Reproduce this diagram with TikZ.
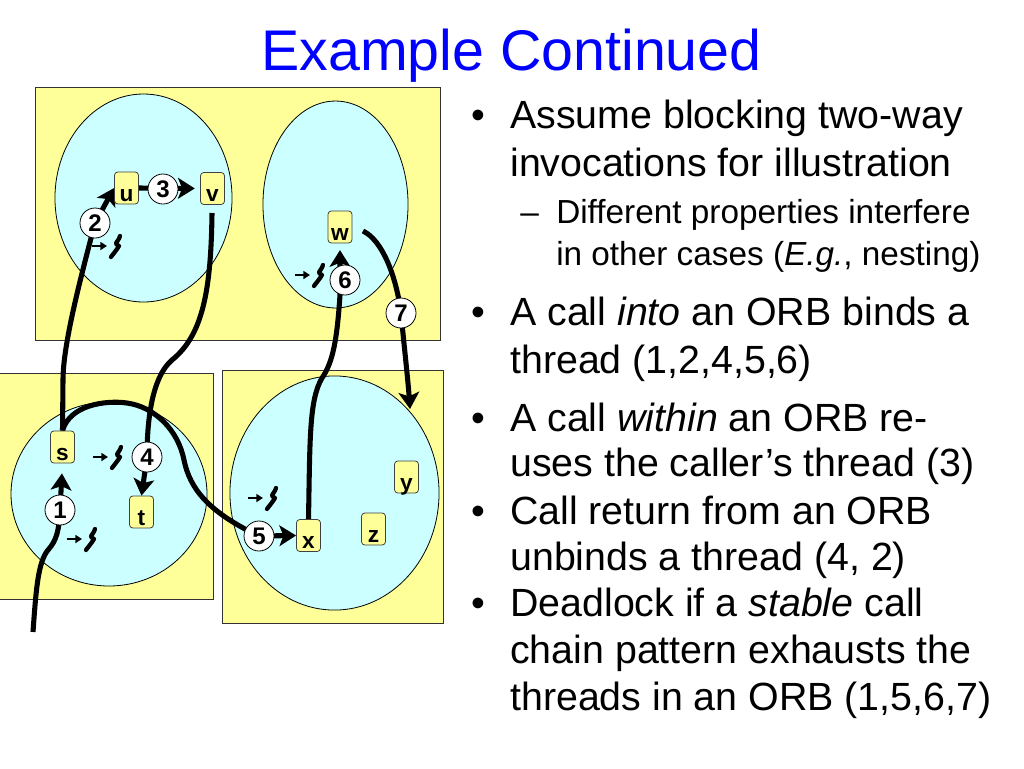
\documentclass[tikz,border=0pt]{standalone}
\usepackage{fontspec}
\setmainfont{Liberation Sans}
\usetikzlibrary{arrows.meta}
\definecolor{ylw}{HTML}{FFFF99}
\definecolor{cyn}{HTML}{CCFFFF}
\definecolor{ttl}{HTML}{0000FF}
\pgfdeclarelayer{bg}
\pgfsetlayers{bg,main}
\begin{document}
\begin{tikzpicture}[x=0.75pt,y=-0.75pt,
  panel/.style={fill=ylw,draw=black!80,line width=0.6pt},
  orb/.style={fill=cyn,draw=black,line width=0.6pt},
  obj/.style={draw=black!75,fill=ylw,rounded corners=2.5pt,line width=0.6pt,inner sep=0pt,
    minimum width=18pt,minimum height=24pt,text height=21.75pt,text depth=2.25pt,
    font=\fontsize{17}{17}\selectfont\bfseries},
  num/.style={circle,draw=black,fill=white,line width=0.6pt,inner sep=0pt,minimum size=22.5pt,
    font=\fontsize{18}{18}\selectfont\bfseries},
  call/.style={line width=3.8pt},
  callarrow/.style={line width=3.8pt,-{Stealth[length=12.5pt,width=15.5pt,inset=3pt]}},
  bl/.style={anchor=base west,inner sep=0pt,font=\fontsize{29.5}{30}\selectfont},
  sbl/.style={anchor=base west,inner sep=0pt,font=\fontsize{25}{26}\selectfont},
  dot/.style={anchor=base,inner sep=0pt,font=\fontsize{29.5}{30}\selectfont},
  thread/.pic={
    \draw[line width=1.4pt,-{Triangle[length=5pt,width=6pt]}] (-23,-1) -- (-8,-1);
    \draw[line width=3.2pt,line cap=round,line join=round] (5,-11) .. controls (4,-7) and (1,-5) .. (1,-3) -- (4,-1) .. controls (1,4) and (-2,7) .. (-4,10);
  }
]
\useasboundingbox (0,0) rectangle (1024,768);

% title
\node[anchor=base,inner sep=0pt,text=ttl,font=\fontsize{43}{43}\selectfont] (title) at (511.5,70) {Example Continued};

% objects
\node[obj] (u) at (126.5,188) {u};
\node[obj] (v) at (212.5,188.5) {v};
\node[obj] (w) at (340,227) {w};
\node[obj] (s) at (62.5,447) {s};
\node[obj] (t) at (141.5,512) {t};
\node[obj] (x) at (308.5,535.5) {x};
\node[obj] (y) at (406.5,477) {y};
\node[obj] (z) at (373.5,529) {z};

% numbered steps
\node[num] (c1) at (60,510) {1};
\node[num] (c2) at (95,223) {2};
\node[num] (c3) at (163,189) {3};
\node[num] (c4) at (147,457) {4};
\node[num] (c5) at (259,536) {5};
\node[num] (c6) at (345,280) {6};
\node[num] (c7) at (401,313) {7};

\coordinate (in1) at (33,632);
\coordinate (w7) at (363,231);
\coordinate (e7) at (410,409);
\coordinate (v4) at (212,213);

\begin{pgfonlayer}{bg}
  \fill[white] (0,0) rectangle (1024,768);
  % ORB panels
  \draw[panel] (35,87) rectangle (440,340);
  \fill[ylw] (0,373) rectangle (213,599);
  \draw[black!80,line width=0.6pt] (0,373) -- (213,373) -- (213,599) -- (0,599);
  \draw[panel] (222,370) rectangle (443,623);
  % ellipses
  \draw[orb] (143.5,198) ellipse [x radius=66.4pt, y radius=78pt];
  \draw[orb] (335.5,204.5) ellipse [x radius=54.4pt, y radius=77.6pt];
  \draw[orb] (109,494) ellipse [x radius=73.5pt, y radius=69pt];
  \draw[orb] (334.5,493) ellipse [x radius=78.4pt, y radius=87.8pt];
  % threads
  \pic at (115,247) {thread};
  \pic at (318,276) {thread};
  \pic at (116,458) {thread};
  \pic at (90,540) {thread};
  \pic at (271,499) {thread};
  % call 1
  \draw[call] (in1) .. controls (36,590) and (38,562) .. (48,550) .. controls (57,540) and (59,530) .. (c1.center);
  \draw[callarrow,shorten >=7.5pt] (c1.center) -- (s.south);
  % call 2
  \draw[call] (s.north) -- (63,380) .. controls (63,345) and (80,280) .. (c2.center);
  \draw[callarrow] (c2.center) -- (u.west);
  % call 3
  \draw[callarrow,shorten >=4pt] (u.east) -- (v.west);
  % call 4
  \draw[call] (v4) .. controls (211,290) and (203,335) .. (172,360) .. controls (152,377) and (147,420) .. (c4.center);
  \draw[callarrow] (c4.center) -- (t.north);
  % call 5
  \draw[call] (s.north) .. controls (70,405) and (105,400) .. (127,403) .. controls (155,407) and (178,430) .. (184,460) .. controls (190,490) and (210,510) .. (245,529) -- (c5.center);
  \draw[callarrow] (c5.center) -- (x.west);
  % call 6
  \draw[callarrow,shorten >=5pt] (x.north) .. controls (310,440) and (309,400) .. (322,378) .. controls (333,362) and (337,340) .. (340,295) -- (w.south);
  % call 7
  \draw[callarrow] (w7) .. controls (382,240) and (396,275) .. (c7.center) .. controls (404,345) and (408,380) .. (e7);
\end{pgfonlayer}

% bullet text
\node[dot] (d1) at (478,128.3) {•};
\node[bl] (l1) at (510,128.3) {Assume blocking two-way};
\node[bl] (l2) at (510,176.7) {invocations for illustration};
\node[sbl] (dash1) at (520,223) {–};
\node[sbl] (l3) at (556,223) {Different properties interfere};
\node[sbl] (l4) at (556,265) {in other cases (\textit{E.g.}, nesting)};
\node[dot] (d2) at (478,325) {•};
\node[bl] (l5) at (510,325) {A call \textit{into} an ORB binds a};
\node[bl] (l6) at (510,373) {thread (1,2,4,5,6)};
\node[dot] (d3) at (478,431.7) {•};
\node[bl] (l7) at (510,431.7) {A call \textit{within} an ORB re-};
\node[bl] (l8) at (510,476.7) {uses the caller’s thread (3)};
\node[dot] (d4) at (478,524) {•};
\node[bl] (l9) at (510,524) {Call return from an ORB};
\node[bl] (l10) at (510,570) {unbinds a thread (4, 2)};
\node[dot] (d5) at (478,616.7) {•};
\node[bl] (l11) at (510,616.7) {Deadlock if a \textit{stable} call};
\node[bl] (l12) at (510,663.3) {chain pattern exhausts the};
\node[bl] (l13) at (510,710) {threads in an ORB (1,5,6,7)};
\end{tikzpicture}
\end{document}
